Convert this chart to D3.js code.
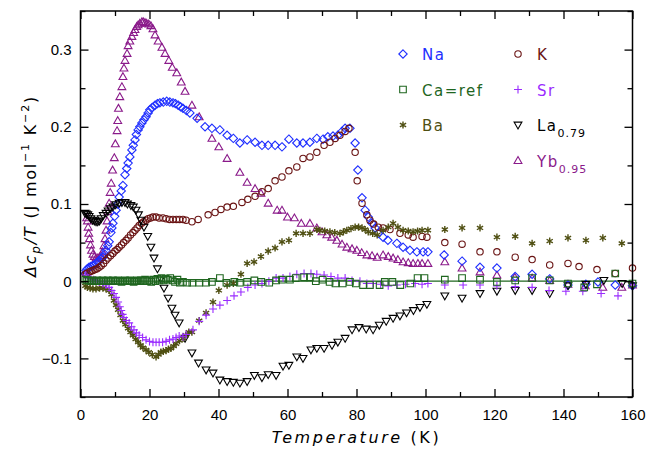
<!DOCTYPE html>
<html>
<head>
<meta charset="utf-8">
<script src="https://cdnjs.cloudflare.com/ajax/libs/d3/7.8.5/d3.min.js"></script>
<style>
  body { margin: 0; background: #fff; }
  svg { display: block; font-family: "DejaVu Sans", sans-serif; }
  .tick text { font-size: 15px; fill: #000; }
  .tick line { stroke: #000; stroke-width: 1.3; }
</style>
</head>
<body>
<div id="chart"></div>
<script>
// readings from the picture: [T (K), dCp/T]
var na = [[1.4,0.01],[1.6,0.014],[2.0,0.016],[2.5,0.018],[3.0,0.019],[3.5,0.02],[3.9,0.021],[4.5,0.023],[5.0,0.025],[5.4,0.027],[6.0,0.029],[6.5,0.031],[7.0,0.035],[7.4,0.04],[7.9,0.046],[8.3,0.051],[8.8,0.063],[9.1,0.069],[9.4,0.075],[9.9,0.084],[10.3,0.092],[10.8,0.1],[11.2,0.109],[11.8,0.117],[12.3,0.124],[12.9,0.138],[13.4,0.146],[13.8,0.153],[14.3,0.161],[14.9,0.17],[15.3,0.176],[15.8,0.183],[16.2,0.19],[16.7,0.196],[17.2,0.2],[17.8,0.205],[18.4,0.209],[19,0.213],[19.6,0.218],[20.1,0.222],[20.8,0.225],[21.6,0.228],[22.3,0.23],[23,0.231],[24,0.232],[25,0.233],[25.9,0.232],[26.8,0.231],[27.5,0.23],[28.3,0.228],[29,0.226],[29.7,0.224],[30.7,0.221],[31.7,0.218],[33.8,0.211],[36.1,0.2],[38.1,0.198],[40.4,0.196],[42.5,0.189],[44.3,0.185],[46.2,0.179],[48.3,0.183],[50.6,0.18],[52.6,0.176],[54.4,0.176],[56.4,0.176],[58.4,0.174],[60.4,0.184],[62.7,0.179],[64.5,0.179],[66.5,0.18],[68.5,0.185],[70.3,0.184],[71.7,0.187],[73.2,0.188],[74.6,0.189],[75.8,0.194],[76.7,0.198],[78.1,0.198],[79.6,0.179],[80.4,0.144],[81.6,0.108],[82.5,0.092],[83.4,0.083],[84.5,0.075],[85.4,0.069],[86.3,0.062],[87.7,0.057],[89.1,0.053],[91.7,0.049],[93.5,0.044],[95.5,0.04],[97.5,0.038],[99.3,0.038],[100.7,0.038],[105.4,0.034],[110.6,0.026],[115.8,0.018],[120.7,0.017],[126,0.006],[130.9,0.009],[136,0.003],[141.3,-0.005],[146.5,-0.004],[150,-0.001],[155,-0.005],[160,-0.006]];

var k = [[1.4,0.009],[1.8,0.01],[2.5,0.012],[3.0,0.013],[3.6,0.014],[4.2,0.015],[4.8,0.016],[5.4,0.018],[6.0,0.02],[6.7,0.023],[7.4,0.027],[8.0,0.03],[8.7,0.033],[9.4,0.036],[10.0,0.039],[10.6,0.041],[11.2,0.044],[11.9,0.047],[12.5,0.05],[13.2,0.053],[13.8,0.056],[14.5,0.06],[15.2,0.063],[15.8,0.066],[16.4,0.069],[17,0.072],[17.7,0.075],[18.3,0.077],[19,0.079],[19.6,0.081],[20.3,0.082],[21,0.083],[21.9,0.083],[22.8,0.082],[23.9,0.082],[24.8,0.081],[25.8,0.08],[26.8,0.08],[27.8,0.08],[28.7,0.08],[29.7,0.08],[30.6,0.079],[32.3,0.077],[34.1,0.08],[37,0.086],[39,0.089],[40.7,0.093],[42.5,0.096],[44.3,0.097],[46.8,0.102],[48.5,0.106],[50.6,0.11],[52.6,0.116],[54.4,0.12],[56.4,0.13],[58.4,0.135],[60.4,0.143],[62.7,0.148],[64.5,0.159],[66.5,0.161],[68.5,0.167],[70.6,0.176],[72.3,0.18],[73.8,0.185],[75.2,0.189],[76.7,0.194],[77.8,0.198],[79.6,0.167],[80.2,0.13],[81.6,0.101],[83,0.086],[83.9,0.079],[85,0.074],[86.3,0.07],[87.7,0.069],[89.7,0.067],[92.6,0.062],[95,0.06],[96.4,0.057],[99,0.058],[100.4,0.057],[105.6,0.05],[110.6,0.048],[115.8,0.038],[120.7,0.038],[126,0.031],[130.9,0.028],[136,0.021],[141.3,0.023],[144.5,0.019],[149.7,0.015],[155,0.01],[160,0.017]];

var ca = [[1.4,0.002],[1.9,0.001],[2.4,0.001],[2.9,0],[3.4,0.001],[3.9,0],[4.4,0],[4.9,0.001],[5.4,0],[5.9,0],[6.4,0.001],[6.9,0],[7.4,0],[7.9,0.001],[8.4,0],[8.9,0],[9.4,0.001],[9.9,0],[10.4,0],[10.9,0.001],[11.4,0],[11.9,-0.001],[12.4,0],[12.9,0.001],[13.4,0],[13.9,0],[14.4,0.001],[14.9,0],[15.4,-0.001],[15.9,0],[16.4,0.001],[16.9,0],[17.5,0.001],[18.1,0],[18.7,0.002],[19.3,0],[19.9,0.001],[20.5,-0.001],[21.1,0.002],[21.7,0],[22.3,0.003],[22.9,0.001],[23.5,0.004],[24.1,0.001],[24.7,0.003],[25.3,0.002],[26,0.004],[26.7,0.001],[27.4,-0.001],[28.1,0.002],[28.8,-0.002],[29.7,-0.001],[30.9,-0.002],[32.4,-0.002],[34.4,-0.002],[36.4,-0.002],[38.1,-0.001],[40.4,0.004],[42.3,-0.002],[44.6,-0.001],[46.2,-0.002],[48.3,-0.001],[50.4,0.001],[52.4,-0.001],[54.7,-0.002],[56.7,0.001],[58.4,0.002],[60.7,0.002],[62.4,0.004],[64.8,0.005],[66.5,0.005],[68.2,0],[70.2,0.002],[72.2,-0.001],[73.9,-0.003],[76,-0.003],[78.1,-0.001],[79.8,-0.003],[81.9,-0.005],[83.9,-0.005],[86.7,-0.005],[88.2,-0.001],[90.4,-0.001],[92.7,-0.005],[95.6,-0.003],[97.7,0.004],[99.7,0.004],[105.6,0.002],[110.6,0.004],[115.8,0.002],[120.7,-0.001],[126,0.001],[130.9,0.004],[136,0.001],[141.3,-0.003],[146,-0.008],[149.7,-0.004],[155,0.01],[160,-0.003]];

var sr = [[1.5,0.008],[2.2,0.004],[3.0,0.003],[3.8,0.002],[4.5,0.001],[5.5,-0.001],[6.5,-0.003],[7.4,-0.005],[8.3,-0.008],[9.0,-0.012],[9.7,-0.016],[10.3,-0.021],[10.9,-0.027],[11.4,-0.033],[11.8,-0.038],[12.2,-0.043],[12.6,-0.047],[13.3,-0.051],[14.1,-0.054],[14.8,-0.059],[15.5,-0.063],[16.2,-0.067],[17,-0.07],[18,-0.073],[19,-0.076],[20,-0.078],[21,-0.079],[21.9,-0.079],[22.8,-0.079],[23.8,-0.079],[24.8,-0.078],[25.8,-0.076],[26.8,-0.075],[27.7,-0.073],[28.6,-0.071],[29.7,-0.072],[30.6,-0.069],[32.6,-0.063],[34.4,-0.052],[36.4,-0.044],[38.4,-0.036],[40.4,-0.031],[42.5,-0.025],[44.5,-0.019],[46.5,-0.014],[48.5,-0.008],[50.6,-0.005],[52.6,-0.003],[54.6,0],[56.7,0.004],[58.7,0.004],[60.7,0.006],[62.7,0.009],[64.8,0.01],[66.8,0.01],[68.5,0.009],[70.6,0.008],[72.6,0.006],[74.6,0.004],[76.7,0.004],[78.7,0.001],[81,0],[83,-0.003],[84.8,-0.003],[87,-0.004],[89.2,-0.006],[91.7,-0.005],[94.2,-0.004],[97,-0.003],[99,-0.004],[100.7,-0.003],[105.6,-0.005],[110.9,-0.005],[115.8,-0.005],[120.7,-0.006],[126,-0.007],[130.9,-0.008],[135.8,-0.012],[140.7,-0.013],[145.6,-0.013],[150.9,-0.016],[155.8,-0.019],[160,-0.005]];

var ba = [[1.4,-0.006],[2.0,-0.008],[2.8,-0.009],[3.6,-0.01],[4.5,-0.01],[5.5,-0.009],[6.5,-0.009],[7.4,-0.01],[8.3,-0.012],[9.0,-0.017],[9.7,-0.025],[10.3,-0.031],[10.9,-0.037],[11.6,-0.044],[12.3,-0.051],[13.0,-0.056],[13.8,-0.061],[14.5,-0.066],[15.2,-0.07],[16,-0.075],[16.7,-0.079],[17.4,-0.083],[18.1,-0.086],[19,-0.089],[19.8,-0.092],[20.8,-0.095],[21.9,-0.098],[22.6,-0.095],[23.3,-0.092],[24,-0.091],[24.8,-0.09],[25.5,-0.088],[26.2,-0.087],[27,-0.084],[27.7,-0.081],[28.7,-0.077],[29.7,-0.074],[30.5,-0.07],[31.4,-0.066],[32.3,-0.066],[34.4,-0.051],[36.4,-0.041],[38.4,-0.027],[40.1,-0.012],[42.5,-0.005],[44.3,-0.003],[46.5,0.009],[48.3,0.023],[50.3,0.025],[52.3,0.032],[54.4,0.039],[56.4,0.043],[58.4,0.051],[60.4,0.053],[62.5,0.062],[64.5,0.062],[66.5,0.062],[68.5,0.067],[69.4,0.066],[70.8,0.065],[72.3,0.064],[73.7,0.063],[75.2,0.062],[76.2,0.064],[77.2,0.066],[78.4,0.068],[79.6,0.07],[80.6,0.07],[81.6,0.069],[82.5,0.067],[83.4,0.064],[84.7,0.062],[86,0.06],[87.7,0.066],[89.2,0.07],[90.6,0.075],[92,0.07],[93.5,0.066],[95,0.065],[96.4,0.064],[97.7,0.065],[99,0.066],[100.7,0.066],[105.6,0.067],[110.6,0.069],[115.8,0.069],[120.7,0.057],[126,0.058],[130.9,0.049],[136,0.052],[141.3,0.056],[146.5,0.053],[151.4,0.056],[156.9,0.049]];

var la = [[1.3,0.088],[1.7,0.087],[2.1,0.086],[2.5,0.084],[3.0,0.081],[3.5,0.079],[4.0,0.078],[4.5,0.077],[5.0,0.077],[5.5,0.078],[6.0,0.081],[6.6,0.085],[7.4,0.088],[8.0,0.091],[8.7,0.094],[9.4,0.096],[10.2,0.099],[11.2,0.101],[12.0,0.102],[12.9,0.102],[13.6,0.1],[14.6,0.098],[15.3,0.096],[16.1,0.092],[16.8,0.086],[17.5,0.079],[18.4,0.07],[19.5,0.058],[20.4,0.044],[21.3,0.03],[22.3,0.016],[23.3,0.003],[24.2,-0.009],[25.4,-0.022],[26.5,-0.035],[27.4,-0.044],[28.6,-0.054],[30.3,-0.074],[32.3,-0.093],[34.2,-0.106],[36.4,-0.115],[38.4,-0.119],[40.4,-0.128],[42.5,-0.13],[44.3,-0.131],[46.2,-0.132],[48.3,-0.13],[50.4,-0.122],[52.6,-0.125],[54.4,-0.121],[56.7,-0.122],[58.7,-0.11],[60.4,-0.109],[62.7,-0.098],[64.5,-0.1],[66.8,-0.089],[68.5,-0.087],[70.6,-0.087],[72.9,-0.083],[74.6,-0.079],[76.7,-0.074],[78.7,-0.063],[80.7,-0.06],[82.8,-0.062],[84.8,-0.063],[86.6,-0.057],[88.6,-0.052],[90.6,-0.048],[92.6,-0.045],[94.5,-0.041],[96.5,-0.038],[98.4,-0.034],[100.4,-0.03],[105.6,-0.019],[110.6,-0.022],[115.8,-0.016],[120.7,-0.013],[126,-0.012],[130.9,-0.012],[136,-0.016],[141.3,-0.006],[146.5,-0.004],[151.7,0.001],[157,-0.003],[160,-0.006]];

var yb = [[1.8,0.082],[2.0,0.078],[2.2,0.07],[2.4,0.062],[2.6,0.055],[2.9,0.047],[3.2,0.04],[3.6,0.035],[4.0,0.032],[4.5,0.03],[5.0,0.03],[5.5,0.031],[6.0,0.033],[6.4,0.038],[6.8,0.046],[7.1,0.055],[7.4,0.066],[7.7,0.078],[8.0,0.09],[8.3,0.101],[8.6,0.115],[8.9,0.127],[9.3,0.144],[9.8,0.16],[10.1,0.178],[10.6,0.195],[10.8,0.208],[11.0,0.224],[11.4,0.239],[12.0,0.252],[12.3,0.265],[12.6,0.276],[12.9,0.286],[13.5,0.295],[13.8,0.305],[14.3,0.311],[14.9,0.317],[15.4,0.322],[15.8,0.326],[16.3,0.33],[16.7,0.332],[17.2,0.334],[17.8,0.336],[18.2,0.336],[18.7,0.335],[19.2,0.334],[19.8,0.333],[20.4,0.331],[21.0,0.327],[21.6,0.319],[22.5,0.311],[23.6,0.303],[24.5,0.295],[25.6,0.286],[26.6,0.277],[27.9,0.27],[29.2,0.258],[30.3,0.246],[32.3,0.228],[34.4,0.213],[38.1,0.185],[40.1,0.174],[42.5,0.159],[46.2,0.141],[48.3,0.128],[50.6,0.12],[52.3,0.114],[54.4,0.101],[57,0.092],[58.4,0.092],[60,0.083],[62,0.082],[64,0.075],[66.5,0.075],[68.5,0.069],[70,0.064],[71.4,0.06],[72.8,0.057],[74.3,0.053],[75.8,0.048],[77.2,0.044],[78.7,0.042],[80.1,0.04],[81.5,0.037],[83,0.034],[84.5,0.033],[86,0.031],[87.7,0.034],[89.2,0.032],[90.6,0.03],[92,0.028],[93.5,0.025],[95,0.024],[96.4,0.023],[97.8,0.023],[99,0.023],[100.7,0.023],[105.6,0.025],[110.6,0.017],[115.8,0.012],[120.7,0.008],[125.9,0.005],[130.9,0.004],[136,0.001],[141.3,-0.004],[146.3,-0.006],[151.4,-0.008],[156.9,-0.008],[160,-0.005]];

var xMajor = [0, 20, 40, 60, 80, 100, 120, 140, 160];
var xMinor = [10, 30, 50, 70, 90, 110, 130, 150];
var yMajor = [-0.1, 0, 0.1, 0.2, 0.3];
var yMinor = [-0.15, -0.05, 0.05, 0.15, 0.25, 0.35];

var width = 651, height = 451;
var margin = {top: 11, right: 18.5, bottom: 54, left: 80.5};

var svg = d3.select('#chart').append('svg')
  .attr('width', width)
  .attr('height', height);

var x = d3.scaleLinear().domain([0, 160]).range([margin.left, width - margin.right]);
var y = d3.scaleLinear().domain([-0.15, 0.35]).range([height - margin.bottom, margin.top]);

// marker shapes
var shapes = {
  diamond: function(s) { return 'M0,' + (-s) + 'L' + s + ',0L0,' + s + 'L' + (-s) + ',0Z'; },
  square: function(s) { return 'M' + (-s) + ',' + (-s) + 'H' + s + 'V' + s + 'H' + (-s) + 'Z'; },
  circle: function(s) { return 'M' + s + ',0A' + s + ',' + s + ' 0 1,1 ' + (-s) + ',0A' + s + ',' + s + ' 0 1,1 ' + s + ',0Z'; },
  triUp: function(s) { return 'M0,' + (-s) + 'L' + s + ',' + (s * 0.75) + 'L' + (-s) + ',' + (s * 0.75) + 'Z'; },
  triDown: function(s) { return 'M0,' + s + 'L' + s + ',' + (-s * 0.75) + 'L' + (-s) + ',' + (-s * 0.75) + 'Z'; },
  plus: function(s) { return 'M' + (-s) + ',0H' + s + 'M0,' + (-s) + 'V' + s; },
  star: function(s) {
    var p = '';
    [90, 30, 150].forEach(function(a) {
      var r = a * Math.PI / 180, dx = s * Math.cos(r), dy = s * Math.sin(r);
      p += 'M' + (-dx) + ',' + (-dy) + 'L' + dx + ',' + dy;
    });
    return p;
  }
};

var series = [
  {name: 'Yb', data: yb, shape: 'triUp', size: 3.9, color: '#8a1a8a'},
  {name: 'Na', data: na, shape: 'diamond', size: 4.2, color: '#1f2fff'},
  {name: 'K', data: k, shape: 'circle', size: 3.2, color: '#6a1414'},
  {name: 'La', data: la, shape: 'triDown', size: 3.9, color: '#000000'},
  {name: 'Ba', data: ba, shape: 'star', size: 3.6, color: '#4f4f12'},
  {name: 'Sr', data: sr, shape: 'plus', size: 4, color: '#9a2cff'},
  {name: 'Ca', data: ca, shape: 'square', size: 3.3, color: '#1f661f'}
];

// reference line at zero
svg.append('line')
  .attr('x1', x(1)).attr('x2', x(160))
  .attr('y1', y(0)).attr('y2', y(0))
  .attr('stroke', '#1f661f')
  .attr('stroke-width', 1.3);

series.forEach(function(s) {
  svg.append('g')
    .attr('class', 'series-' + s.name)
    .selectAll('path')
    .data(s.data)
    .enter().append('path')
      .attr('transform', function(d) { return 'translate(' + x(d[0]) + ',' + y(d[1]) + ')'; })
      .attr('d', shapes[s.shape](s.size))
      .attr('fill', 'none')
      .attr('stroke', s.color)
      .attr('stroke-width', s.shape == 'star' ? 1.4 : 1.1);
});

// axes, ticks pointing inward on all four sides
var xb = height - margin.bottom, yl = margin.left, yr = width - margin.right, xt = margin.top;

svg.append('g')
  .attr('transform', 'translate(0,' + xb + ')')
  .call(d3.axisBottom(x).tickValues(xMajor).tickSize(-8).tickPadding(12).tickFormat(d3.format('d')));
svg.append('g')
  .attr('transform', 'translate(0,' + xb + ')')
  .call(d3.axisBottom(x).tickValues(xMinor).tickSize(-5).tickFormat(''));
svg.append('g')
  .attr('transform', 'translate(0,' + xt + ')')
  .call(d3.axisTop(x).tickValues(xMajor).tickSize(-8).tickFormat(''));
svg.append('g')
  .attr('transform', 'translate(0,' + xt + ')')
  .call(d3.axisTop(x).tickValues(xMinor).tickSize(-5).tickFormat(''));

svg.append('g')
  .attr('transform', 'translate(' + yl + ',0)')
  .call(d3.axisLeft(y).tickValues(yMajor).tickSize(-8).tickPadding(9)
    .tickFormat(function(d) { return d === 0 ? '0' : (d < 0 ? '\u2212' : '') + Math.abs(d).toFixed(1); }));
svg.append('g')
  .attr('transform', 'translate(' + yl + ',0)')
  .call(d3.axisLeft(y).tickValues(yMinor).tickSize(-5).tickFormat(''));
svg.append('g')
  .attr('transform', 'translate(' + yr + ',0)')
  .call(d3.axisRight(y).tickValues(yMajor).tickSize(-8).tickFormat(''));
svg.append('g')
  .attr('transform', 'translate(' + yr + ',0)')
  .call(d3.axisRight(y).tickValues(yMinor).tickSize(-5).tickFormat(''));

svg.selectAll('.domain').remove();

svg.append('rect')
  .attr('x', yl).attr('y', xt)
  .attr('width', yr - yl).attr('height', xb - xt)
  .attr('fill', 'none')
  .attr('stroke', '#000')
  .attr('stroke-width', 1.5);

// axis titles
var xt1 = svg.append('text')
  .attr('x', (yl + yr) / 2)
  .attr('y', 443)
  .attr('text-anchor', 'middle')
  .style('font-size', '16px')
  .style('letter-spacing', '2.6px');
xt1.append('tspan').style('font-style', 'italic').text('Temperature');
xt1.append('tspan').text(' (K)');

var yt = svg.append('text')
  .attr('transform', 'translate(36,186) rotate(-90)')
  .attr('text-anchor', 'middle')
  .style('font-size', '16px')
  .style('letter-spacing', '1.8px');
yt.append('tspan').style('font-style', 'italic').text('\u0394c');
yt.append('tspan').style('font-style', 'italic').style('font-size', '12px').attr('dy', 4).text('p');
yt.append('tspan').style('font-style', 'italic').attr('dy', -4).text('/T');
yt.append('tspan').text(' (J mol');
yt.append('tspan').style('font-size', '11px').attr('dy', -7).text('\u22121');
yt.append('tspan').attr('dy', 7).text(' K');
yt.append('tspan').style('font-size', '11px').attr('dy', -7).text('\u22122');
yt.append('tspan').attr('dy', 7).text(')');

// legend
var legendItems = [
  {label: 'Na', sub: '', shape: 'diamond', size: 4.2, color: '#1f2fff', col: 0, row: 0},
  {label: 'Ca=ref', sub: '', shape: 'square', size: 3.3, color: '#1f661f', col: 0, row: 1},
  {label: 'Ba', sub: '', shape: 'star', size: 3.6, color: '#4f4f12', col: 0, row: 2},
  {label: 'K', sub: '', shape: 'circle', size: 3.2, color: '#6a1414', col: 1, row: 0},
  {label: 'Sr', sub: '', shape: 'plus', size: 4, color: '#9a2cff', col: 1, row: 1},
  {label: 'La', sub: '0.79', shape: 'triDown', size: 3.9, color: '#000000', col: 1, row: 2},
  {label: 'Yb', sub: '0.95', shape: 'triUp', size: 3.9, color: '#8a1a8a', col: 1, row: 3}
];

var legend = svg.append('g').attr('class', 'legend');
legendItems.forEach(function(it) {
  var lx = 403 + it.col * 115, ly = 54 + it.row * 35.5;
  legend.append('path')
    .attr('transform', 'translate(' + lx + ',' + ly + ')')
    .attr('d', shapes[it.shape](it.size))
    .attr('fill', 'none')
    .attr('stroke', it.color)
    .attr('stroke-width', it.shape == 'star' ? 1.4 : 1.1);
  var t = legend.append('text')
    .attr('x', lx + 19)
    .attr('y', ly + 6)
    .attr('fill', it.color)
    .style('font-size', '15px')
    .style('letter-spacing', '1.5px')
    .text(it.label);
  if (it.sub) {
    t.append('tspan').attr('dy', 6).style('font-size', '11px').style('letter-spacing', '1px').text(it.sub);
  }
});
</script>
</body>
</html>
